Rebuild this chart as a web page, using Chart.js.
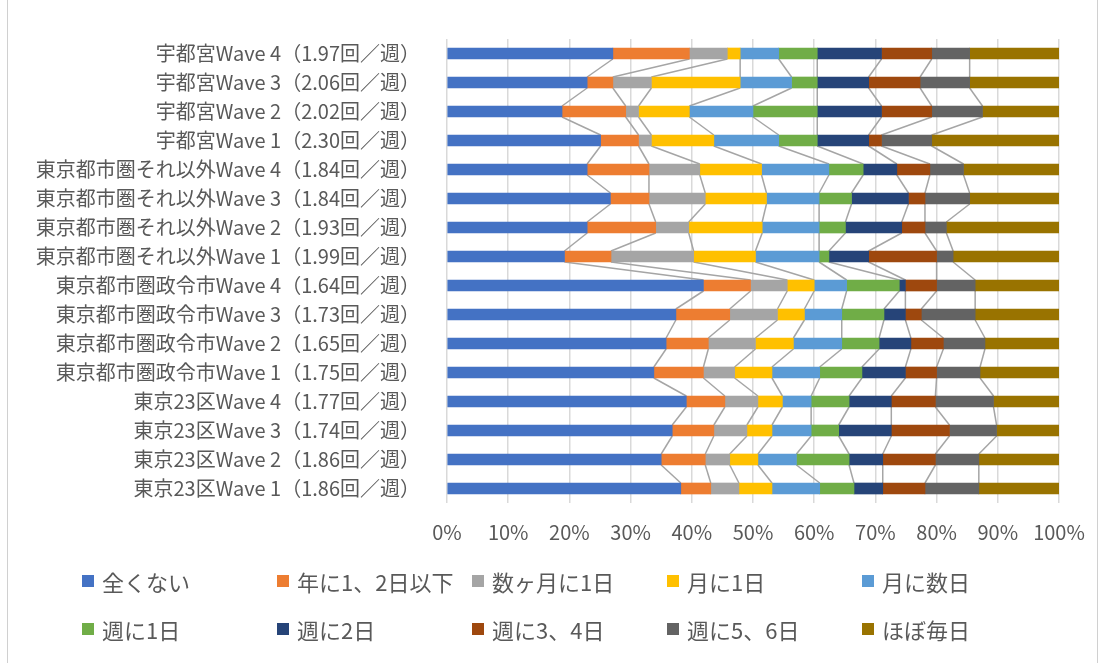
<!DOCTYPE html>
<html lang="ja">
<head>
<meta charset="utf-8">
<title>利用頻度</title>
<script src="https://cdn.jsdelivr.net/npm/chart.js@4.4.1/dist/chart.umd.min.js"></script>
<style>
  html, body { margin: 0; padding: 0; background: #fff; }
  #wrap { position: relative; width: 1110px; height: 663px; overflow: hidden; }
  #frame { position: absolute; left: 7px; top: 0; width: 1089px; height: 663px;
           border-left: 1px solid #d0d0d0; border-right: 1px solid #d0d0d0; pointer-events: none; }
  #legend { position: absolute; left: 82px; top: 567px; display: grid;
            grid-template-columns: repeat(5, 195px); row-gap: 20px;
            font-family: 'Noto Sans CJK JP', 'Noto Sans', sans-serif; font-size: 22px; color: #595959; }
  #legend div { display: flex; align-items: center; height: 28px; white-space: nowrap; }
  #legend span.box { display: inline-block; width: 12px; height: 12px; margin-right: 8px; }
</style>
</head>
<body>
<div id="wrap">
  <canvas id="freqChart" width="1110" height="663"></canvas>
  <div id="frame"></div>
  <div id="legend"></div>
</div>
<script>
// カテゴリ（上から順）
const categories = [
  '宇都宮Wave 4（1.97回／週）',
  '宇都宮Wave 3（2.06回／週）',
  '宇都宮Wave 2（2.02回／週）',
  '宇都宮Wave 1（2.30回／週）',
  '東京都市圏それ以外Wave 4（1.84回／週）',
  '東京都市圏それ以外Wave 3（1.84回／週）',
  '東京都市圏それ以外Wave 2（1.93回／週）',
  '東京都市圏それ以外Wave 1（1.99回／週）',
  '東京都市圏政令市Wave 4（1.64回／週）',
  '東京都市圏政令市Wave 3（1.73回／週）',
  '東京都市圏政令市Wave 2（1.65回／週）',
  '東京都市圏政令市Wave 1（1.75回／週）',
  '東京23区Wave 4（1.77回／週）',
  '東京23区Wave 3（1.74回／週）',
  '東京23区Wave 2（1.86回／週）',
  '東京23区Wave 1（1.86回／週）'
];

const seriesNames = ['全くない', '年に1、2日以下', '数ヶ月に1日', '月に1日', '月に数日',
                     '週に1日', '週に2日', '週に3、4日', '週に5、6日', 'ほぼ毎日'];
const seriesColors = ['#4472C4', '#ED7D31', '#A5A5A5', '#FFC000', '#5B9BD5',
                      '#70AD47', '#264478', '#9E480E', '#636363', '#997300'];

// 構成比（%）
const never       = [27.1, 22.9, 18.8, 25.1, 22.9, 26.7, 22.9, 19.2, 41.9, 37.4, 35.8, 33.8, 39.1, 36.8, 35.0, 38.2];
const yearly12    = [12.5, 4.2, 10.4, 6.2, 10.1, 6.3, 11.2, 7.6, 7.7, 8.8, 6.9, 8.1, 6.3, 6.8, 7.2, 4.9];
const fewMonths   = [6.2, 6.3, 2.1, 2.1, 8.3, 9.2, 5.4, 13.5, 6.0, 7.8, 7.7, 5.1, 5.4, 5.4, 4.0, 4.6];
const monthly1    = [2.1, 14.5, 8.3, 10.2, 10.1, 10.0, 12.0, 10.1, 4.4, 4.4, 6.2, 6.1, 4.0, 4.1, 4.6, 5.4];
const monthlyFew  = [6.3, 8.4, 10.4, 10.6, 11.0, 8.6, 9.3, 10.4, 5.3, 6.1, 7.9, 7.8, 4.7, 6.4, 6.3, 7.8];
const weekly1     = [6.3, 4.2, 10.5, 6.3, 5.6, 5.3, 4.3, 1.6, 8.6, 6.9, 6.1, 6.9, 6.2, 4.5, 8.6, 5.6];
const weekly2     = [10.5, 8.4, 10.5, 8.4, 5.5, 9.3, 9.2, 6.5, 1.0, 3.5, 5.2, 7.1, 6.9, 8.6, 5.5, 4.7];
const weekly34    = [8.2, 8.4, 8.2, 2.1, 5.4, 2.7, 3.8, 11.1, 5.1, 2.6, 5.3, 5.1, 7.2, 9.5, 8.6, 6.9];
const weekly56    = [6.2, 8.1, 8.3, 8.2, 5.5, 7.3, 3.5, 2.7, 6.3, 8.8, 6.8, 7.1, 9.5, 7.7, 7.1, 8.8];
const almostDaily = [14.6, 14.6, 12.5, 20.8, 15.6, 14.6, 18.4, 17.3, 13.7, 13.7, 12.1, 12.9, 10.7, 10.2, 13.1, 13.1];

const seriesValues = [never, yearly12, fewMonths, monthly1, monthlyFew,
                      weekly1, weekly2, weekly34, weekly56, almostDaily];

const xTicks = [0, 10, 20, 30, 40, 50, 60, 70, 80, 90, 100];

const fontFamily = "'Noto Sans CJK JP', 'Noto Sans', sans-serif";
const textColor = '#595959';

// 区分線（隣り合う棒の境界をつなぐ灰色の線）
const seriesLines = {
  id: 'seriesLines',
  beforeDatasetsDraw(chart) {
    const ctx = chart.ctx;
    ctx.save();
    ctx.strokeStyle = '#A5A5A5';
    ctx.lineWidth = 1.5;
    for (let d = 0; d < seriesValues.length - 1; d++) {
      const bars = chart.getDatasetMeta(d).data;
      for (let i = 0; i < bars.length - 1; i++) {
        const a = bars[i].getProps(['x', 'y', 'height'], true);
        const b = bars[i + 1].getProps(['x', 'y', 'height'], true);
        ctx.beginPath();
        ctx.moveTo(a.x, a.y + a.height / 2);
        ctx.lineTo(b.x, b.y - b.height / 2);
        ctx.stroke();
      }
    }
    ctx.restore();
  }
};

const ctx = document.getElementById('freqChart').getContext('2d');

new Chart(ctx, {
  type: 'bar',
  data: {
    labels: categories,
    datasets: seriesNames.map((name, i) => ({
      label: name,
      data: seriesValues[i],
      backgroundColor: seriesColors[i],
      borderWidth: 0,
      barThickness: 11
    }))
  },
  options: {
    indexAxis: 'y',
    responsive: false,
    animation: false,
    layout: { padding: { top: 33, right: 51, left: 0, bottom: 0 } },
    plugins: {
      legend: { display: false },
      tooltip: { enabled: false }
    },
    scales: {
      x: {
        stacked: true,
        min: 0,
        max: 100,
        afterBuildTicks: (scale) => { scale.ticks = xTicks.map(v => ({ value: v })); },
        afterFit: (scale) => { scale.height = 160; },
        ticks: {
          callback: (v) => v + '%',
          color: textColor,
          font: { family: fontFamily, size: 20 },
          padding: 17,
          maxRotation: 0
        },
        grid: { color: '#D9D9D9', lineWidth: 1.5, drawTicks: false },
        border: { display: false }
      },
      y: {
        stacked: true,
        afterFit: (scale) => { scale.width = 447; },
        ticks: {
          color: textColor,
          font: { family: fontFamily, size: 20 },
          padding: 27,
          autoSkip: false
        },
        grid: { display: false, drawTicks: false },
        border: { display: false }
      }
    }
  },
  plugins: [seriesLines]
});

// 凡例
const legendEl = document.getElementById('legend');
seriesNames.forEach((name, i) => {
  const item = document.createElement('div');
  const box = document.createElement('span');
  box.className = 'box';
  box.style.background = seriesColors[i];
  item.appendChild(box);
  item.appendChild(document.createTextNode(name));
  legendEl.appendChild(item);
});
</script>
</body>
</html>
